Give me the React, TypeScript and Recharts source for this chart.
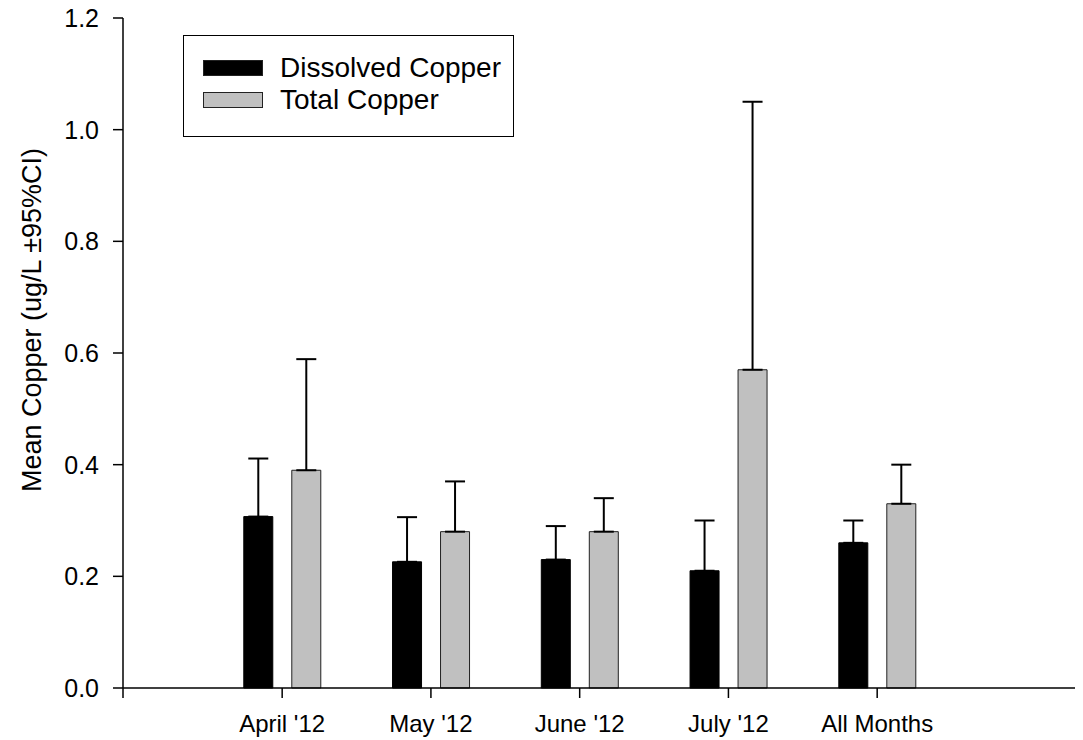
import React from 'react';
import { ComposedChart, Bar, XAxis, YAxis, ErrorBar, Legend, Label } from 'recharts';

const FONT = '"Liberation Sans", Arial, Helvetica, sans-serif';

const categories = ["April '12", "May '12", "June '12", "July '12", "All Months"];
const positions = [1, 2, 3, 4, 5];
const dissolvedMean = [0.307, 0.226, 0.23, 0.21, 0.26];
const dissolvedUpper = [0.411, 0.306, 0.29, 0.30, 0.30];
const totalMean = [0.39, 0.28, 0.28, 0.57, 0.33];
const totalUpper = [0.589, 0.37, 0.34, 1.05, 0.40];
const yTicks = [0, 0.2, 0.4, 0.6, 0.8, 1.0, 1.2];
const xDomain: [number, number] = [-0.07, 6.35];
const xTicks = [xDomain[0], ...positions, xDomain[1]];

const data = categories.map((c, i) => ({
  pos: positions[i],
  name: c,
  dissolved: dissolvedMean[i],
  dErr: [0, +(dissolvedUpper[i] - dissolvedMean[i]).toFixed(4)],
  total: totalMean[i],
  tErr: [0, +(totalUpper[i] - totalMean[i]).toFixed(4)],
}));

const LegendBox = (props: any) => {
  const payload = props.payload || [];
  return (
    <div
      style={{
        border: '1px solid #000',
        width: 331,
        height: 102,
        boxSizing: 'border-box',
        background: '#fff',
        fontFamily: FONT,
        fontSize: 28,
        paddingTop: 16,
        paddingLeft: 19,
      }}
    >
      {payload.map((p: any) => (
        <div key={p.value} style={{ display: 'flex', alignItems: 'center', height: 32 }}>
          <div
            style={{
              width: 60,
              height: 16,
              background: p.color,
              border: '1px solid #222',
              boxSizing: 'border-box',
              marginRight: 17,
            }}
          />
          <span style={{ color: '#000' }}>{p.value}</span>
        </div>
      ))}
    </div>
  );
};

const YLabel = (props: any) => {
  const vb = props.viewBox || { x: 0, y: 0, width: 0, height: 0 };
  const x = vb.x + 24;
  const y = vb.y + vb.height / 2 - 33;
  return (
    <text
      x={x}
      y={y}
      transform={`rotate(-90 ${x} ${y})`}
      textAnchor="middle"
      dominantBaseline="central"
      fontFamily={FONT}
      fontSize={27}
      fill="#000"
    >
      Mean Copper (ug/L ±95%CI)
    </text>
  );
};

export default function App() {
  return (
    <div style={{ position: 'relative', width: 1075, height: 740, marginTop: -8, background: '#fff' }}>
      <ComposedChart
        width={1075}
        height={740}
        data={data}
        margin={{ top: 18, right: 5, left: 0, bottom: 0 }}
        barGap={19}
      >
        <XAxis
          dataKey="pos"
          type="number"
          domain={xDomain}
          ticks={xTicks}
          allowDataOverflow
          interval={0}
          height={52}
          tickSize={10}
          tickMargin={17}
          axisLine={{ stroke: '#000', strokeWidth: 1.5 }}
          tickLine={{ stroke: '#000', strokeWidth: 1.5 }}
          tick={{ fill: '#000', fontSize: 24, fontFamily: FONT }}
          tickFormatter={(v: number) => {
            const idx = positions.indexOf(v);
            return idx >= 0 ? categories[idx] : '';
          }}
        />
        <YAxis
          type="number"
          domain={[0, 1.2]}
          ticks={yTicks}
          interval={0}
          width={115}
          tickSize={10}
          tickMargin={14}
          axisLine={{ stroke: '#000', strokeWidth: 1.5 }}
          tickLine={{ stroke: '#000', strokeWidth: 1.5 }}
          tick={{ fill: '#000', fontSize: 25, fontFamily: FONT }}
          tickFormatter={(v: number) => v.toFixed(1)}
        >
          <Label content={<YLabel />} />
        </YAxis>
        <Legend
          layout="vertical"
          align="center"
          verticalAlign="middle"
          content={<LegendBox />}
          wrapperStyle={{ left: 175, top: 35, width: 331, height: 102 }}
        />
        <Bar
          dataKey="dissolved"
          name="Dissolved Copper"
          fill="#000000"
          stroke="#000000"
          strokeWidth={1}
          barSize={29}
          isAnimationActive={false}
        >
          <ErrorBar dataKey="dErr" width={10} stroke="#000" strokeWidth={2} direction="y" />
        </Bar>
        <Bar
          dataKey="total"
          name="Total Copper"
          fill="#c0c0c0"
          stroke="#222222"
          strokeWidth={1}
          barSize={29}
          isAnimationActive={false}
        >
          <ErrorBar dataKey="tErr" width={10} stroke="#000" strokeWidth={2} direction="y" />
        </Bar>
      </ComposedChart>
    </div>
  );
}
